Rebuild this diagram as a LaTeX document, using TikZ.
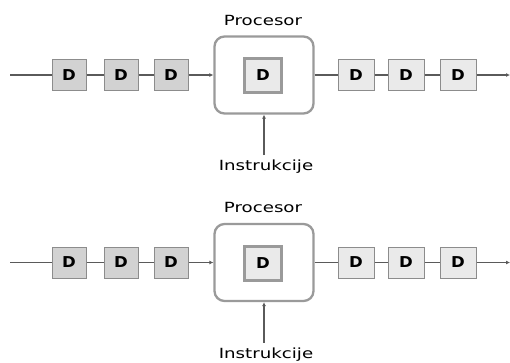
\documentclass[tikz,border=0pt]{standalone}
\usepackage{fontspec}
\setmainfont{DejaVu Sans}
\newfontfamily\lblfont[FakeStretch=1.3]{DejaVu Sans}
\newfontfamily\dfont[FakeStretch=1.1]{DejaVu Sans Bold}
\usetikzlibrary{arrows.meta}
\definecolor{lineg}{HTML}{5A5A5A}
\definecolor{boxdark}{HTML}{D2D2D2}
\definecolor{boxlight}{HTML}{EAEAEA}
\definecolor{edgeg}{HTML}{8C8C8C}
\definecolor{procg}{HTML}{9A9A9A}
\tikzset{
  dbox/.style={draw=edgeg, line width=1pt, minimum width=34pt, minimum height=31pt, inner sep=0pt, font=\dfont\fontsize{15}{15}\selectfont},
  dleft/.style={dbox, fill=boxdark},
  dright/.style={dbox, fill=boxlight, minimum width=36pt},
  proc/.style={draw=procg, line width=2.3pt, rounded corners=10pt, minimum width=99pt, minimum height=77pt, fill=white},
  inner/.style={draw=procg, line width=3pt, fill=boxlight, minimum width=37pt, minimum height=34pt, inner sep=0pt, font=\dfont\fontsize{15}{15}\selectfont},
  lbl/.style={font=\lblfont\fontsize{14}{14}\selectfont, text=black, inner sep=0pt},
  wire/.style={draw=lineg, line width=1.1pt},
  arr/.style={wire, -{Latex[length=4pt,width=4pt]}}
}
\begin{document}
\begin{tikzpicture}[x=1pt,y=-1pt]
\useasboundingbox (0,0) rectangle (510,362);
\foreach \r/\y in {a/75, b/262.5}{
  \node[proc] (\r p) at (264,\y) {};
  \node[inner] (\r i) at (263,\y+0.5) {D};
  \node[dleft] (\r 1) at (69,\y) {D};
  \node[dleft] (\r 2) at (121,\y) {D};
  \node[dleft] (\r 3) at (171,\y) {D};
  \node[dright] (\r 4) at (356,\y) {D};
  \node[dright] (\r 5) at (406,\y) {D};
  \node[dright] (\r 6) at (458,\y) {D};
  \coordinate (\r in) at (10,\y);
  \coordinate (\r out) at (510,\y);
  \node[lbl] (\r t) at (263,\y-55) {Procesor};
  \node[lbl] (\r s) at (266,\y+92) {Instrukcije};
  \coordinate (\r st) at (264,\y+80);
  \draw[wire] (\r in) -- (\r 1);
  \draw[wire] (\r 1) -- (\r 2);
  \draw[wire] (\r 2) -- (\r 3);
  \draw[arr] (\r 3) -- (\r p);
  \draw[wire] (\r p) -- (\r 4);
  \draw[wire] (\r 4) -- (\r 5);
  \draw[wire] (\r 5) -- (\r 6);
  \draw[arr] (\r 6) -- (\r out);
  \draw[arr] (\r st) -- (\r p.south -| \r st);
}
\end{tikzpicture}
\end{document}
